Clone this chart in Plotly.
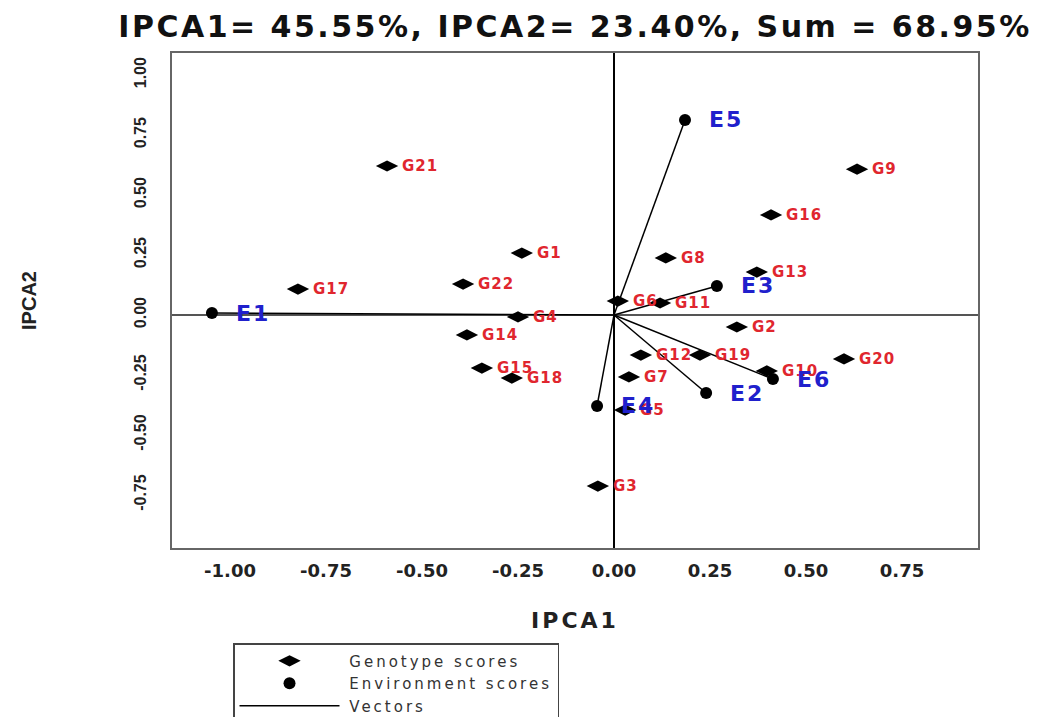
import plotly.graph_objects as go

# ---- data ----
genotypes = ["G1", "G2", "G3", "G4", "G5", "G6", "G7", "G8", "G9", "G10", "G11",
             "G12", "G13", "G14", "G15", "G16", "G17", "G18", "G19", "G20", "G21", "G22"]
geno_ipca1 = [-0.240, 0.320, -0.042, -0.250, 0.029, 0.010, 0.039, 0.135, 0.633, 0.398, 0.120,
              0.070, 0.372, -0.383, -0.344, 0.409, -0.823, -0.266, 0.224, 0.599, -0.591, -0.393]
geno_ipca2 = [0.258, -0.050, -0.713, -0.008, -0.396, 0.058, -0.258, 0.238, 0.608, -0.233, 0.050,
              -0.167, 0.179, -0.083, -0.221, 0.417, 0.108, -0.263, -0.167, -0.183, 0.621, 0.129]

environments = ["E1", "E2", "E3", "E4", "E5", "E6"]
env_ipca1 = [-1.047, 0.240, 0.268, -0.044, 0.185, 0.414]
env_ipca2 = [0.008, -0.325, 0.121, -0.379, 0.813, -0.267]

x_ticks = [-1.00, -0.75, -0.50, -0.25, 0.00, 0.25, 0.50, 0.75]
y_ticks = [-0.75, -0.50, -0.25, 0.00, 0.25, 0.50, 0.75, 1.00]

title_text = "IPCA1= 45.55%, IPCA2= 23.40%, Sum = 68.95%"
x_title = "IPCA1"
y_title = "IPCA2"
legend_names = ["Genotype scores", "Environment scores", "Vectors"]


def spaced(text, px, lead=""):
    return f'{lead}<span style="letter-spacing:{px}px">{text}</span>'


# ---- figure ----
fig = go.Figure()

vec_x, vec_y = [], []
for ex, ey in zip(env_ipca1, env_ipca2):
    vec_x += [0, ex, None]
    vec_y += [0, ey, None]

fig.add_trace(go.Scatter(
    x=geno_ipca1, y=geno_ipca2, mode="markers",
    name=spaced(legend_names[0], 3, "&nbsp;"),
    marker=dict(symbol="diamond-wide", size=16, color="black"),
    legendrank=1, hoverinfo="text", text=genotypes))

fig.add_trace(go.Scatter(
    x=vec_x, y=vec_y, mode="lines",
    name=spaced(legend_names[2], 3, "&nbsp;"),
    line=dict(color="black", width=1.5), legendrank=3, hoverinfo="skip"))

fig.add_trace(go.Scatter(
    x=env_ipca1, y=env_ipca2, mode="markers",
    name=spaced(legend_names[1], 3, "&nbsp;"),
    marker=dict(symbol="circle", size=12, color="black"),
    legendrank=2, hoverinfo="text", text=environments))

annotations = []
for name, gx, gy in zip(genotypes, geno_ipca1, geno_ipca2):
    annotations.append(dict(
        x=gx, y=gy, text=spaced(name, 1), showarrow=False, xanchor="left", yanchor="middle",
        xshift=13, font=dict(family="DejaVu Sans", size=15, color="#e0262e", weight="bold")))
for name, ex, ey in zip(environments, env_ipca1, env_ipca2):
    annotations.append(dict(
        x=ex, y=ey, text=spaced(name, 2), showarrow=False, xanchor="left", yanchor="middle",
        xshift=22, font=dict(family="DejaVu Sans", size=22, color="#2020cc", weight="bold")))

fig.update_layout(
    width=1039, height=709,
    paper_bgcolor="white", plot_bgcolor="white",
    margin=dict(l=164, r=69, t=45, b=169, autoexpand=False),
    title=dict(text=spaced(title_text, 2.5), x=0.5, xref="paper", xanchor="center",
               y=0.974, yref="container", yanchor="middle",
               font=dict(family="DejaVu Sans", size=30, color="#111", weight="bold")),
    xaxis=dict(range=[-1.151, 0.948], tickvals=x_ticks,
               ticktext=[f"{v:.2f}" for v in x_ticks], ticks="",
               showgrid=False, zeroline=True, zerolinecolor="black", zerolinewidth=1.5,
               showline=True, mirror=True, linecolor="#666", linewidth=2,
               ticklabelstandoff=5,
               tickfont=dict(family="DejaVu Sans", size=18, color="#222", weight="bold"),
               title=dict(text=spaced(x_title, 3), standoff=33,
                          font=dict(family="DejaVu Sans", size=22, color="#222", weight="bold"))),
    yaxis=dict(range=[-0.971, 1.092], tickvals=y_ticks,
               ticktext=[f"{v:.2f}" for v in y_ticks], ticks="", tickangle=-90,
               showgrid=False, zeroline=True, zerolinecolor="#555", zerolinewidth=2,
               showline=True, mirror=True, linecolor="#666", linewidth=2,
               ticklabelstandoff=18,
               tickfont=dict(family="Liberation Sans", size=16, color="#222", weight="bold"),
               title=dict(text=y_title, standoff=90,
                          font=dict(family="Liberation Sans", size=20, color="#222", weight="bold"))),
    showlegend=True,
    legend=dict(x=0.0757, y=-0.192, xanchor="left", yanchor="top",
                bordercolor="#444", borderwidth=1.5, bgcolor="white",
                itemwidth=100, traceorder="normal",
                font=dict(family="DejaVu Sans", size=15, color="#333")),
    annotations=annotations,
)

fig.write_html("out.html")
